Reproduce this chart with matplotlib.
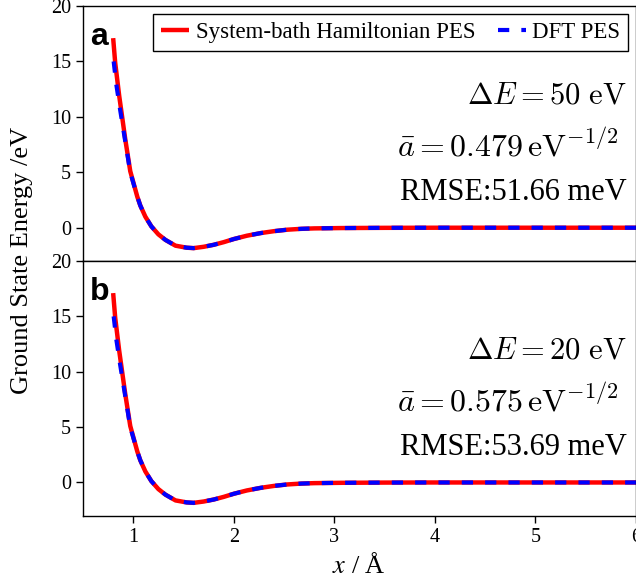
import matplotlib
matplotlib.use('Agg')
import matplotlib.pyplot as plt

# Model PES (system-bath Hamiltonian)
x_model = [0.80, 0.82, 0.86, 0.92, 0.97, 1.04, 1.07, 1.12, 1.18, 1.25, 1.32,
           1.42, 1.53, 1.60, 1.70, 1.80, 1.90, 2.00, 2.13, 2.27, 2.40, 2.53,
           2.67, 2.80, 3.07, 3.50, 4.00, 4.50, 5.00, 5.50, 6.00]
e_model_a = [17.1, 14.9, 11.9, 8.0, 5.1, 2.8, 2.0, 1.0, 0.12, -0.6, -1.1,
             -1.62, -1.80, -1.84, -1.72, -1.54, -1.30, -1.02, -0.72, -0.48, -0.31, -0.18,
             -0.10, -0.06, -0.03, -0.01, 0.0, 0.0, 0.0, 0.0, 0.0]
e_model_b = [17.1, 14.9, 11.9, 8.0, 5.1, 2.8, 2.0, 1.0, 0.12, -0.6, -1.1,
             -1.62, -1.80, -1.84, -1.72, -1.54, -1.30, -1.02, -0.72, -0.48, -0.31, -0.18,
             -0.10, -0.06, -0.03, -0.01, 0.0, 0.0, 0.0, 0.0, 0.0]

# DFT PES
x_dft = [0.805, 0.83, 0.87, 0.92, 0.97, 1.04, 1.07, 1.12, 1.18, 1.25, 1.32,
         1.42, 1.53, 1.60, 1.70, 1.80, 1.90, 2.00, 2.13, 2.27, 2.40, 2.53,
         2.67, 2.80, 3.07, 3.50, 4.00, 4.50, 5.00, 5.50, 6.00]
e_dft = [15.0, 13.0, 10.6, 7.8, 5.0, 2.8, 2.0, 1.0, 0.12, -0.6, -1.1,
         -1.62, -1.80, -1.84, -1.72, -1.54, -1.30, -1.02, -0.72, -0.48, -0.31, -0.18,
         -0.10, -0.06, -0.03, -0.01, 0.0, 0.0, 0.0, 0.0, 0.0]

panel_labels = ['a', 'b']
delta_e = ['50', '20']
a_bar = ['0.479', '0.575']
rmse = ['51.66', '53.69']

SERIF = 'Liberation Serif'
plt.rcParams['font.family'] = SERIF
plt.rcParams['mathtext.fontset'] = 'cm'

fig = plt.figure(figsize=(6.36, 5.81), dpi=100)
ax_a = fig.add_axes([0.1305, 0.5508, 0.8695, 0.4389])
ax_b = fig.add_axes([0.1305, 0.1124, 0.8695, 0.4384], sharex=ax_a)

model_e = [e_model_a, e_model_b]
for i, ax in enumerate([ax_a, ax_b]):
    ax.plot(x_model, model_e[i], color='red', lw=3.2, solid_capstyle='butt',
            label='System-bath Hamiltonian PES')
    ax.plot(x_dft, e_dft, color='blue', lw=3.0, linestyle=(0, (2.7, 2.9)),
            dash_capstyle='butt', label='DFT PES')
    ax.set_xlim(0.5, 6)
    ax.set_ylim(-3, 20)
    ax.set_yticks([0, 5, 10, 15, 20])
    ax.tick_params(direction='out', length=5, width=1.0, labelsize=14.5, pad=3.5)
    for sp in ax.spines.values():
        sp.set_linewidth(1.0)
        sp.set_color('black')

    ax.text(0.013, 0.847, panel_labels[i], transform=ax.transAxes,
            fontsize=23, fontweight='bold', family='Liberation Sans', va='baseline')
    ax.text(0.984, 0.618, r'$\Delta E = %s\ \mathrm{eV}$' % delta_e[i],
            transform=ax.transAxes, ha='right', va='baseline', fontsize=22,
            math_fontfamily='cm')
    ax.text(0.968, 0.41, r'$\bar{a} = %s\,\mathrm{eV}^{-1/2}$' % a_bar[i],
            transform=ax.transAxes, ha='right', va='baseline', fontsize=23,
            math_fontfamily='cm')
    ax.text(0.984, 0.24, 'RMSE:%s meV' % rmse[i], transform=ax.transAxes,
            ha='right', va='baseline', fontsize=22)

ax_a.tick_params(axis='x', bottom=False, labelbottom=False)
ax_b.set_xticks([1, 2, 3, 4, 5, 6])

leg = ax_a.legend(loc='upper right', ncol=2, fontsize=16.5, fancybox=False,
                  edgecolor='black', framealpha=1, borderaxespad=0.33,
                  columnspacing=1.0, handlelength=1.2, handletextpad=0.3,
                  borderpad=0.35)
leg.get_frame().set_linewidth(1.0)

fig.text(0.0346, 0.551, 'Ground State Energy /eV', rotation=90,
         ha='center', va='center', fontsize=19)
fig.text(0.5645, 0.027, r'$x$ / Å', ha='center', va='center', fontsize=19,
         math_fontfamily='stix')

fig.savefig('out.png', dpi=100)
